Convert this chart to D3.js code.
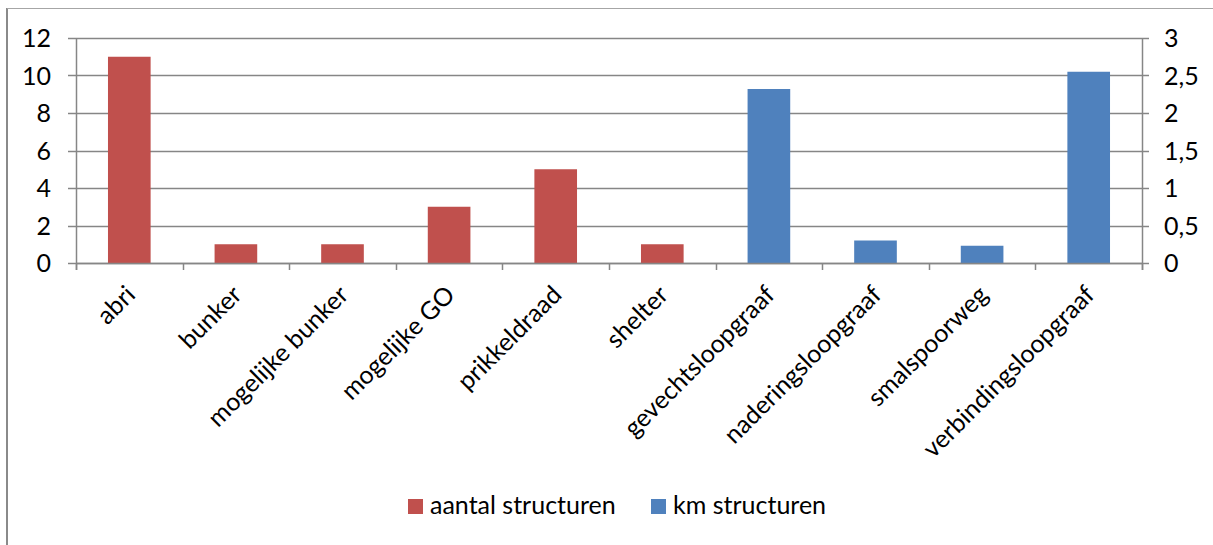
<!DOCTYPE html>
<html><head><meta charset="utf-8">
<script src="https://cdn.jsdelivr.net/npm/d3@7"></script>
<style>
html,body{margin:0;padding:0;background:#fff;}
svg{display:block;}
text{font-family:Lato, "Open Sans", sans-serif;fill:#000;}
</style></head>
<body>
<svg id="chart" width="1213" height="545"></svg>
<script>
const categories = ["abri","bunker","mogelijke bunker","mogelijke GO","prikkeldraad","shelter","gevechtsloopgraaf","naderingsloopgraaf","smalspoorweg","verbindingsloopgraaf"];
const aantalStructuren = [11,1,1,3,5,1,null,null,null,null];
const kmStructuren = [null,null,null,null,null,null,2.32,0.30,0.23,2.55];
const leftTicks = [0,2,4,6,8,10,12];
const rightTicks = [0,0.5,1,1.5,2,2.5,3];
const rightTickLabels = ["0","0,5","1","1,5","2","2,5","3"];
const seriesNames = ["aantal structuren","km structuren"];
const seriesColors = ["#C0504D","#4F81BD"];

const svg = d3.select("#chart");
const L = 76, R = 1142, T = 38, B = 263;
const gridColor = "#868686";
const FS = 25;

// outer frame
svg.append("line").attr("x1",7).attr("x2",7).attr("y1",8).attr("y2",545).attr("stroke","#8a8a8a").attr("stroke-width",2);
svg.append("line").attr("x1",7).attr("x2",1213).attr("y1",8.5).attr("y2",8.5).attr("stroke","#a6a6a6").attr("stroke-width",1);

const x = d3.scaleBand().domain(categories).range([L,R]).paddingInner(0.6).paddingOuter(0.3);
const yL = d3.scaleLinear().domain([0,12]).range([B,T]);
const yR = d3.scaleLinear().domain([0,3]).range([B,T]);

// gridlines
svg.append("g").selectAll("line").data(leftTicks).join("line")
  .attr("x1",L-8).attr("x2",R+7)
  .attr("y1",d=>Math.round(yL(d))+0.5).attr("y2",d=>Math.round(yL(d))+0.5)
  .attr("stroke",gridColor).attr("stroke-width",1.5);

// left labels
svg.append("g").selectAll("text").data(leftTicks).join("text")
  .attr("x",51).attr("y",d=>yL(d)).attr("dy","0.36em")
  .attr("text-anchor","end").attr("font-size",FS).text(d=>d);

// right labels
svg.append("g").selectAll("text").data(rightTicks).join("text")
  .attr("x",1164).attr("y",d=>yR(d)).attr("dy","0.36em")
  .attr("text-anchor","start").attr("font-size",FS).text((d,i)=>rightTickLabels[i]);

// bars
const bars = svg.append("g");
bars.selectAll("rect.a").data(categories.map((c,i)=>({c,v:aantalStructuren[i]})).filter(d=>d.v!=null)).join("rect")
  .attr("class","a")
  .attr("x",d=>x(d.c)).attr("width",x.bandwidth())
  .attr("y",d=>yL(d.v)).attr("height",d=>B-yL(d.v))
  .attr("fill",seriesColors[0]);
bars.selectAll("rect.k").data(categories.map((c,i)=>({c,v:kmStructuren[i]})).filter(d=>d.v!=null)).join("rect")
  .attr("class","k")
  .attr("x",d=>x(d.c)).attr("width",x.bandwidth())
  .attr("y",d=>yR(d.v)).attr("height",d=>B-yR(d.v))
  .attr("fill",seriesColors[1]);

// axes lines
svg.append("line").attr("x1",L+0.5).attr("x2",L+0.5).attr("y1",T).attr("y2",B+7).attr("stroke",gridColor).attr("stroke-width",1.5);
svg.append("line").attr("x1",R+0.5).attr("x2",R+0.5).attr("y1",T).attr("y2",B+7).attr("stroke",gridColor).attr("stroke-width",1.5);
svg.append("line").attr("x1",L).attr("x2",R).attr("y1",B+0.5).attr("y2",B+0.5).attr("stroke",gridColor).attr("stroke-width",1.5);

// category ticks at band boundaries
const step = x.step();
const boundaries = d3.range(categories.length+1).map(i=>L + i*step);
svg.append("g").selectAll("line").data(boundaries).join("line")
  .attr("x1",d=>Math.round(d)+0.5).attr("x2",d=>Math.round(d)+0.5)
  .attr("y1",B).attr("y2",B+7).attr("stroke",gridColor).attr("stroke-width",1.5);

// category labels
svg.append("g").selectAll("text").data(categories).join("text")
  .attr("transform",d=>`translate(${x(d)+x.bandwidth()/2+1},${B+27}) rotate(-45)`)
  .attr("text-anchor","end").attr("dy","0.36em").attr("font-size",FS).text(d=>d);

// legend
const legend = svg.append("g");
const legendX = [408,651];
seriesNames.forEach((n,i)=>{
  legend.append("rect").attr("x",legendX[i]).attr("y",499).attr("width",15).attr("height",15).attr("fill",seriesColors[i]);
  legend.append("text").attr("x",legendX[i]+22).attr("y",514).attr("font-size",FS).text(n);
});
</script>
</body></html>
